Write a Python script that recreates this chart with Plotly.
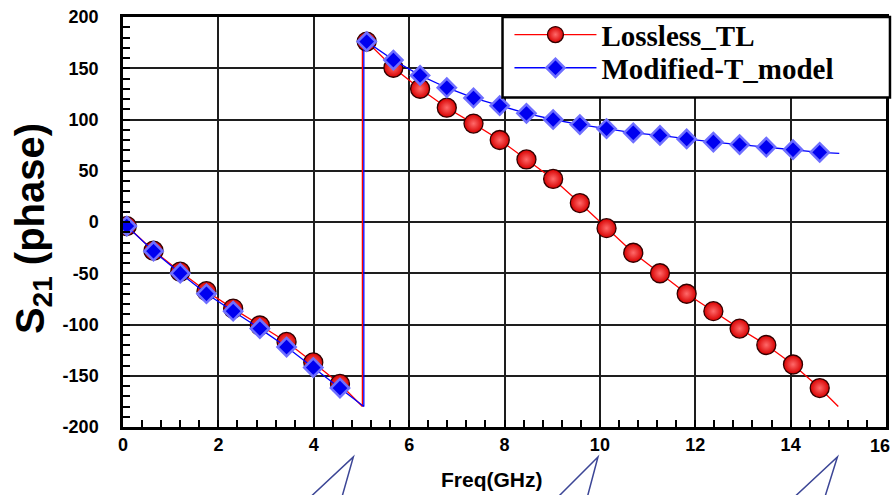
import plotly.graph_objects as go

# ---------------- data ----------------
freq_ghz = [0.08, 0.64, 1.20, 1.75, 2.31, 2.87, 3.43, 3.99, 4.55, 5.11, 5.67, 6.23, 6.79, 7.35,
            7.90, 8.46, 9.02, 9.58, 10.14, 10.70, 11.26, 11.82, 12.38, 12.93, 13.49, 14.05, 14.61]

lossless_tl = [-4, -28, -48.5, -67.5, -84.5, -101, -117, -137, -158, 176, 150.5, 130, 111.5, 96,
               80, 61, 42, 18.5, -6, -30, -50, -70, -87, -104, -120, -139, -162]

modified_t = [-4, -28.5, -50, -70, -87, -104, -122, -142, -162, 176, 158, 143, 131, 121,
              113.5, 106, 100, 95, 91, 87, 84.5, 81, 78, 75.5, 73, 70.5, 68]

# phase-wrap points and line end points
lossless_wrap_x = [5.02, 5.02]
lossless_wrap_y = [-180, 177]
lossless_end = (15.0, -180)
modified_wrap_x = [5.05, 5.05]
modified_wrap_y = [-180, 177]
modified_end = (15.02, 67)

x_ticks = [0, 2, 4, 6, 8, 10, 12, 14, 16]
y_ticks = [-200, -150, -100, -50, 0, 50, 100, 150, 200]

series_names = ["Lossless_TL", "Modified-T_model"]

# callout pointers below the axis (GHz positions: left leg, apex, right leg)
callouts = [(3.66, 4.83, 4.52), (8.87, 9.96, 9.67), (13.81, 14.98, 14.64)]

X_MAX = 16

# ---------------- build lines ----------------
n_before = 9
red_lx = freq_ghz[:n_before] + lossless_wrap_x + freq_ghz[n_before:] + [lossless_end[0]]
red_ly = lossless_tl[:n_before] + lossless_wrap_y + lossless_tl[n_before:] + [lossless_end[1]]
blue_lx = freq_ghz[:n_before] + modified_wrap_x + freq_ghz[n_before:] + [modified_end[0]]
blue_ly = modified_t[:n_before] + modified_wrap_y + modified_t[n_before:] + [modified_end[1]]

RED = "#ff0000"
BLUE = "#0000ff"
red_marker = dict(symbol="circle", size=19, color="#d80000",
                  line=dict(color="#300000", width=1.3),
                  gradient=dict(type="radial", color="#ff6a6a"))
blue_marker = dict(symbol="diamond", size=14, color="#0000f0",
                   line=dict(color="#6f6fff", width=2.5))

fig = go.Figure()
fig.add_trace(go.Scatter(x=red_lx, y=red_ly, mode="lines", line=dict(color=RED, width=1.3),
                         showlegend=False, hoverinfo="skip"))
fig.add_trace(go.Scatter(x=freq_ghz, y=lossless_tl, mode="markers", marker=red_marker,
                         showlegend=False, name=series_names[0]))
fig.add_trace(go.Scatter(x=blue_lx, y=blue_ly, mode="lines", line=dict(color=BLUE, width=1.3),
                         showlegend=False, hoverinfo="skip"))
fig.add_trace(go.Scatter(x=freq_ghz, y=modified_t, mode="markers", marker=blue_marker,
                         showlegend=False, name=series_names[1]))
# legend entries (two legends so the row spacing can match)
fig.add_trace(go.Scatter(x=[None], y=[None], mode="lines+markers", name=series_names[0],
                         line=dict(color=RED, width=1.3), marker=red_marker, legend="legend"))
fig.add_trace(go.Scatter(x=[None], y=[None], mode="lines+markers", name=series_names[1],
                         line=dict(color=BLUE, width=1.3), marker=blue_marker, legend="legend2"))

tick_font = dict(family="Liberation Sans, Arial", size=18, color="black", weight="bold")
axis_common = dict(
    showgrid=True, gridcolor="#1e1e1e", gridwidth=1.5,
    showline=True, linecolor="black", linewidth=2.5, mirror=True,
    ticks="inside", ticklen=7, tickwidth=1.5, tickcolor="black",
    zeroline=False, tickfont=tick_font,
)

# the last x label (16) is drawn as an annotation: it sits slightly inside the page edge
x_shown = x_ticks[:-1]
fig.update_xaxes(range=[0, X_MAX], tickvals=x_shown, ticktext=[str(v) for v in x_shown],
                 minor=dict(dtick=0.4, ticks="inside", ticklen=7, tickwidth=1.5,
                            tickcolor="black", showgrid=False),
                 ticklabelstandoff=0, **axis_common)
fig.update_yaxes(range=[-200, 200], tickvals=y_ticks, ticktext=[str(v) for v in y_ticks],
                 minor=dict(dtick=10, ticks="inside", ticklen=7, tickwidth=1.5,
                            tickcolor="black", showgrid=False),
                 ticklabelstandoff=18, **axis_common)

shapes = []
# legend box
shapes.append(dict(type="rect", xref="paper", yref="paper", x0=0.4974, x1=1.0052, y0=0.8034, y1=1.0,
                   fillcolor="white", line=dict(color="black", width=2.5), layer="above"))
for left, apex, right in callouts:
    shapes.append(dict(type="path", xref="paper", yref="paper",
                       path=f"M {left/X_MAX:.4f},-0.20 L {apex/X_MAX:.4f},-0.073 L {right/X_MAX:.4f},-0.20",
                       line=dict(color="#3c4696", width=1.5)))

annotations = [
    dict(text="Freq(GHz)", xref="paper", yref="paper", x=0.484, y=-0.129,
         xanchor="center", yanchor="middle", showarrow=False,
         font=dict(family="Liberation Sans, Arial", size=21, color="black", weight="bold")),
    dict(text="S<sub>21</sub> (phase)", xref="paper", yref="paper", x=-0.118, y=0.485,
         xanchor="center", yanchor="middle", showarrow=False, textangle=-90,
         font=dict(family="Liberation Sans, Arial", size=40, color="black", weight="bold")),
    dict(text=str(x_ticks[-1]), xref="paper", yref="paper", x=0.992, y=-0.046,
         xanchor="center", yanchor="middle", showarrow=False, font=tick_font),
]

legend_font = dict(family="Liberation Serif, Times New Roman", size=29, color="black", weight="bold")
fig.update_layout(
    width=896, height=495,
    margin=dict(l=123, r=7, t=15, b=68),
    plot_bgcolor="white", paper_bgcolor="white",
    shapes=shapes, annotations=annotations,
    legend=dict(x=0.5065, y=1.019, xanchor="left", yanchor="top",
                bgcolor="rgba(0,0,0,0)", borderwidth=0, itemwidth=82, font=legend_font),
    legend2=dict(x=0.5065, y=0.938, xanchor="left", yanchor="top",
                 bgcolor="rgba(0,0,0,0)", borderwidth=0, itemwidth=82, font=legend_font),
    showlegend=True,
)

fig.write_html("out.html")
